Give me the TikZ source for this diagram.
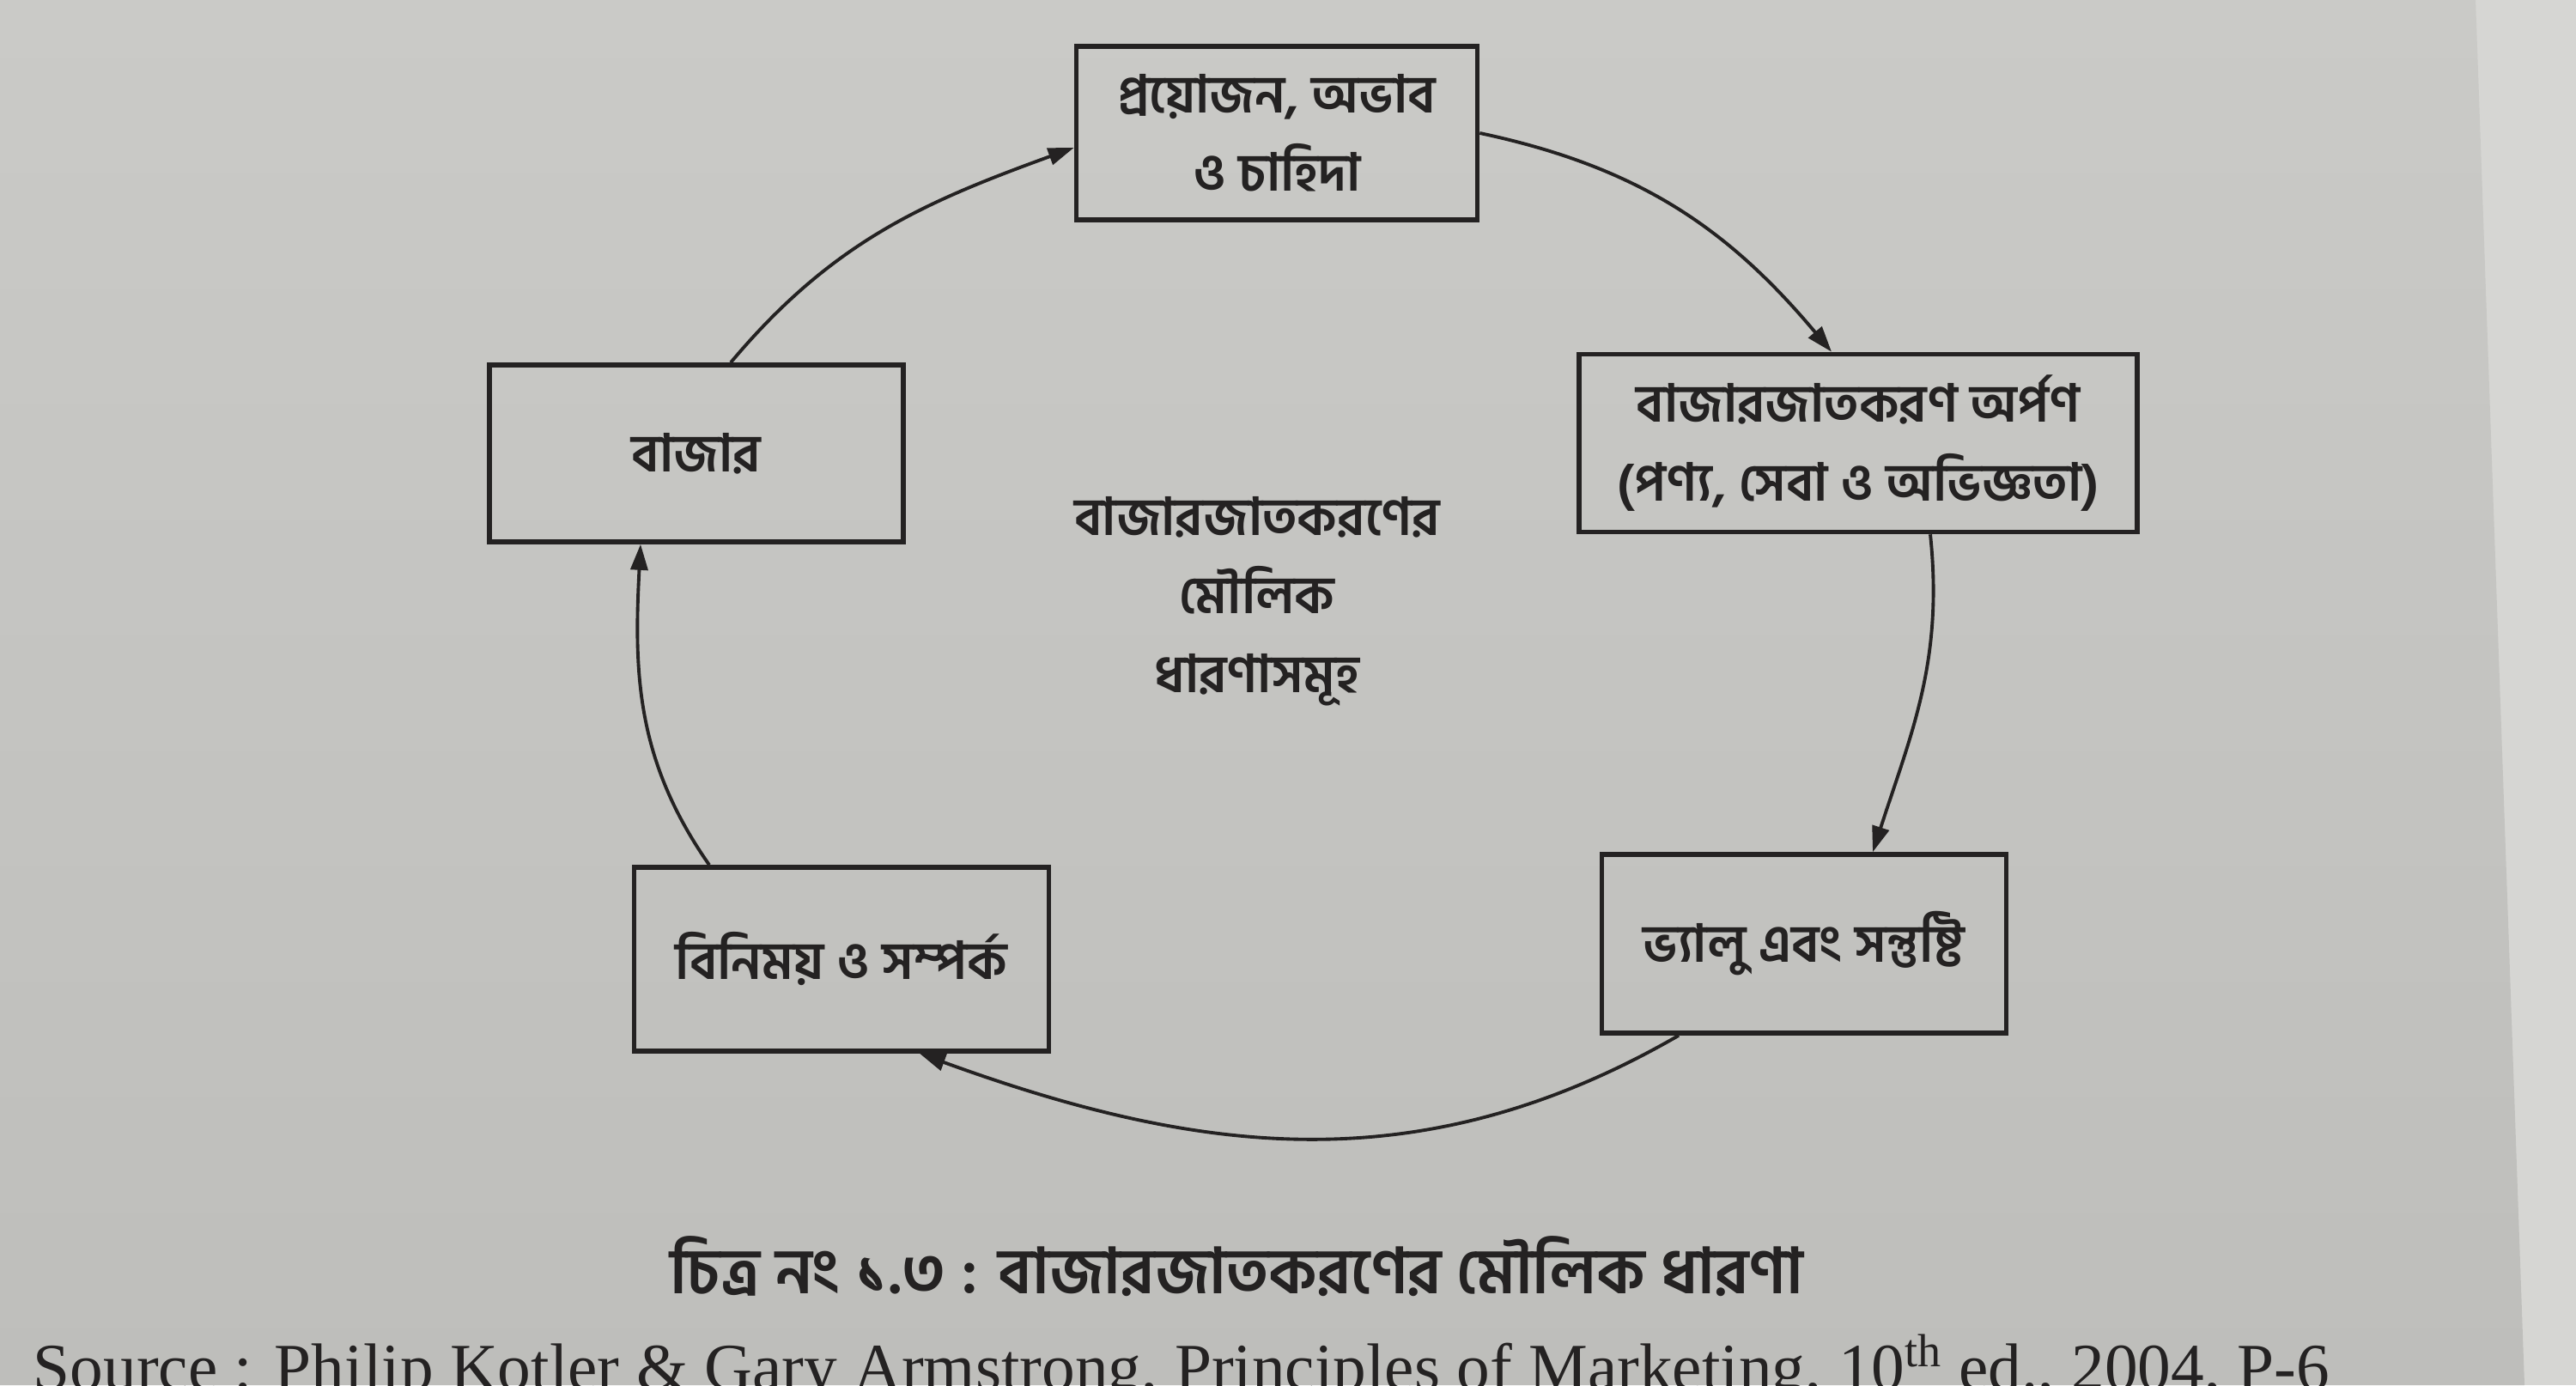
\documentclass[tikz,border=0pt]{standalone}
\usepackage{fontspec}
\setmainfont{Liberation Serif}
\newfontfamily\bnfont[Script=Bengali]{Hind Siliguri}
\usetikzlibrary{arrows.meta}
\definecolor{paper}{RGB}{202,202,199}
\definecolor{paperlow}{RGB}{190,190,187}
\definecolor{paperedge}{RGB}{214,214,211}
\definecolor{ink}{RGB}{36,34,34}
\tikzset{concept/.style={draw=ink, line width=1.6pt, align=center, inner sep=0pt,
   text=ink, font=\bnfont\bfseries\fontsize{17.3}{26}\selectfont},
 flow/.style={draw=ink, line width=1.1pt, -{Triangle[length=0.3cm,width=0.2cm]}},
 caption/.style={text=ink, font=\bnfont\bfseries\fontsize{21}{26}\selectfont},
}

\begin{document}
\begin{tikzpicture}
        % paper and page edge
        \fill[paperedge] (0,0) rectangle (30,16.13);
        \shade[top color=paper, bottom color=paperlow] (0,0) -- (29.4,0) -- (28.83,16.13) -- (0,16.13) -- cycle;
        \useasboundingbox (0,0) rectangle (30,16.13);

        \node[concept, minimum width=4.67cm, minimum height=2.02cm] (need) at (14.87,14.58) {প্রয়োজন, অভাব\\ও চাহিদা};
        \node[concept, minimum width=6.50cm, minimum height=2.07cm] (offer) at (21.64,10.97) {বাজারজাতকরণ অর্পণ\\(পণ্য, সেবা ও অভিজ্ঞতা)};
        \node[concept, minimum width=4.71cm, minimum height=2.08cm] (value) at (21.01,5.14) {ভ্যালু এবং সন্তুষ্টি};
        \node[concept, minimum width=4.83cm, minimum height=2.14cm] (exchange) at (9.80,4.96) {বিনিময় ও সম্পর্ক};
        \node[concept, minimum width=4.82cm, minimum height=2.06cm] (market) at (8.11,10.85) {বাজার};
        \node[concept, draw=none] (core) at (14.64,9.13) {বাজারজাতকরণের\\মৌলিক\\ধারণাসমূহ};

        \draw[flow] (need.east) to[out=-12, in=130] ([xshift=-0.31cm]offer.north);
        \draw[flow] ([xshift=0.84cm]offer.south) to[out=-84, in=72] ([xshift=0.80cm]value.north);
        \draw[flow] ([xshift=-1.46cm]value.south) to[out=-150, in=-20] ([xshift=0.91cm]exchange.south);
        \draw[flow] ([xshift=-1.54cm]exchange.north) to[out=125, in=-93] ([xshift=-0.65cm]market.south);
        \draw[flow] ([xshift=0.40cm]market.north) to[out=50, in=-160] ([yshift=-0.17cm]need.west);

        \node[caption] (fig) at (14.40,1.38) {চিত্র নং ১.৩ : বাজারজাতকরণের মৌলিক ধারণা};
        \node[anchor=base west, text=ink, font=\fontsize{22}{24}\selectfont, inner sep=0pt] (src) at (0.38,-0.05)
            {Source : Philip Kotler \& Gary Armstrong, Principles of Marketing, 10\textsuperscript{th} ed., 2004, P-6};
\end{tikzpicture}
\end{document}
